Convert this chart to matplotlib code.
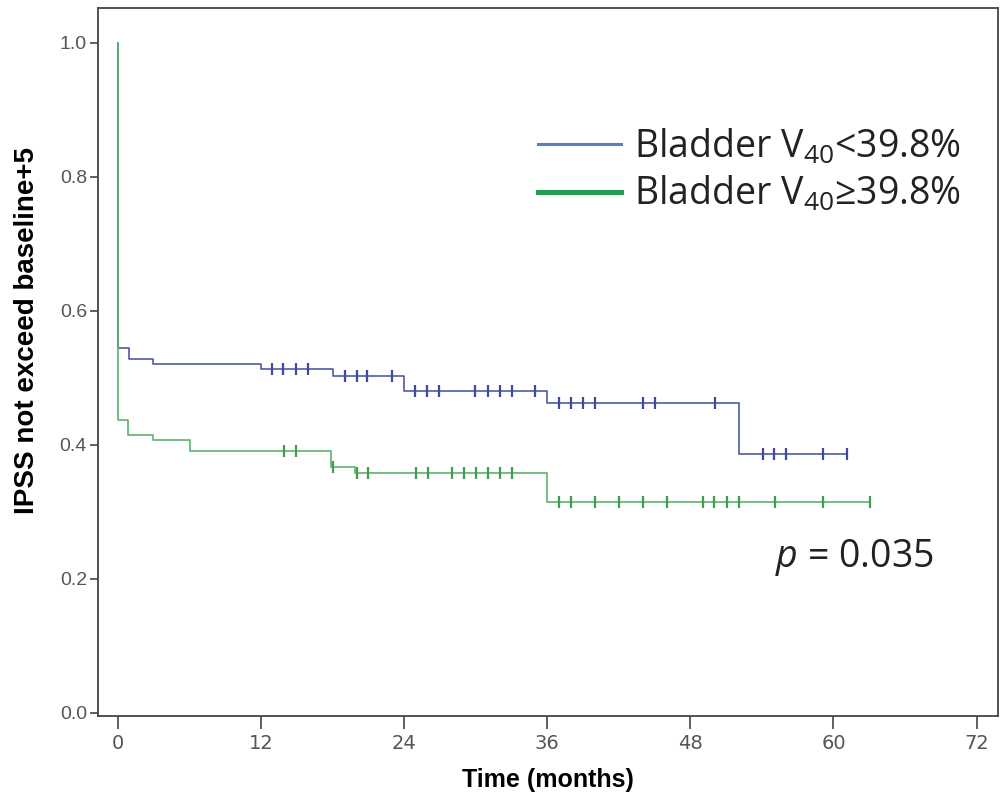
import matplotlib
matplotlib.use("Agg")
import matplotlib.pyplot as plt
from matplotlib.lines import Line2D
import numpy as np

# ---- data ----
blue_label = "Bladder V$_{40}$<39.8%"
green_label = "Bladder V$_{40}$\u226539.8%"

blue_t = [0, 0, 0.9, 2.9, 12.0, 18.0, 24.0, 36.0, 52.1, 61.1]
blue_s = [1.0, 0.545, 0.528, 0.521, 0.513, 0.503, 0.481, 0.463, 0.387, 0.387]
blue_cens = [12.9, 13.8, 14.9, 15.9, 19.0, 20.0, 20.9, 23.0, 24.9, 25.9, 26.9,
             29.9, 31.0, 32.0, 33.0, 35.0, 37.0, 38.0, 39.0, 40.0, 44.0, 45.0,
             50.1, 54.1, 55.0, 56.0, 59.1, 61.1]

green_t = [0, 0, 0.8, 2.9, 6.0, 17.9, 19.9, 36.0, 63.1]
green_s = [1.0, 0.437, 0.415, 0.407, 0.391, 0.367, 0.358, 0.315, 0.315]
green_cens = [13.9, 14.9, 18.0, 20.0, 21.0, 25.0, 26.0, 28.0, 29.0, 30.0, 31.0,
              32.0, 33.0, 37.0, 38.0, 40.0, 42.0, 44.0, 46.0, 49.1, 50.0, 51.1,
              52.1, 55.1, 59.1, 63.1]

x_ticks = [0, 12, 24, 36, 48, 60, 72]
y_ticks = [0.0, 0.2, 0.4, 0.6, 0.8, 1.0]
p_text = "$p$ = 0.035"

# ---- style ----
plt.rcParams['mathtext.fontset'] = 'custom'
plt.rcParams['mathtext.rm'] = 'Open Sans'
plt.rcParams['mathtext.it'] = 'Open Sans:italic'

fig = plt.figure(figsize=(10.05, 8.01), dpi=100)
ax = fig.add_axes([98/1005, 1-716/801, 900/1005, 708/801])

def step_value(t_list, s_list, t):
    idx = np.searchsorted(np.array(t_list), t, side='right') - 1
    return s_list[idx]

c_blue = "#4f5ba8"
c_green = "#5cb36a"

ax.step(blue_t, blue_s, where='post', color=c_blue, lw=1.2, zorder=2)
ax.step(green_t, green_s, where='post', color=c_green, lw=1.2, zorder=3)
ax.plot(blue_cens, [step_value(blue_t, blue_s, t) for t in blue_cens], ls='none',
        marker='|', ms=9, mew=1.6, color="#3e4a9c", zorder=4)
ax.plot(green_cens, [step_value(green_t, green_s, t) for t in green_cens], ls='none',
        marker='|', ms=9, mew=1.6, color="#3f9c50", zorder=4)

ax.set_xlim(-1.68, 73.8)
ax.set_ylim(-0.0045, 1.052)
ax.set_xticks(x_ticks)
ax.set_xticklabels([str(v) for v in x_ticks], fontfamily='Liberation Sans Narrow',
                   fontsize=14, color="#555555")
ax.set_yticks(y_ticks)
ax.set_yticklabels([f"{v:.1f}" for v in y_ticks], fontfamily='Liberation Sans',
                   fontsize=14, color="#555555")
ax.tick_params(axis='x', direction='out', length=9, width=1.2, color="#444444", pad=4)
ax.tick_params(axis='y', direction='out', length=6, width=1.2, color="#444444", pad=2)
for sp in ax.spines.values():
    sp.set_color("#444444")
    sp.set_linewidth(1.3)

ax.set_xlabel("Time (months)", fontfamily='Liberation Sans', fontweight='bold',
              fontsize=18, va='center')
ax.xaxis.set_label_coords(0.5, -0.09)
ax.set_ylabel("IPSS not exceed baseline+5", fontfamily='Liberation Sans',
              fontweight='bold', fontsize=20, va='center')
ax.yaxis.set_label_coords(-0.079, 0.545)

handles = [Line2D([], [], color="#5a7dc0", lw=2.2),
           Line2D([], [], color="#1fa050", lw=3.6)]
leg = ax.legend(handles, [blue_label, green_label], loc='upper left',
                bbox_to_anchor=((538-98)/900, (716-127)/708), frameon=False,
                prop={'family': ['Open Sans', 'DejaVu Sans'], 'size': 27},
                handlelength=2.2, handletextpad=0.35, labelspacing=0.22,
                borderpad=0, borderaxespad=0)
for t in leg.get_texts():
    t.set_color("#222222")

ax.text((775-98)/900, (716-557)/708, p_text, transform=ax.transAxes,
        fontfamily=['Open Sans', 'DejaVu Sans'], fontsize=27, color="#222222",
        ha='left', va='center')

fig.savefig("out.png", dpi=100)
